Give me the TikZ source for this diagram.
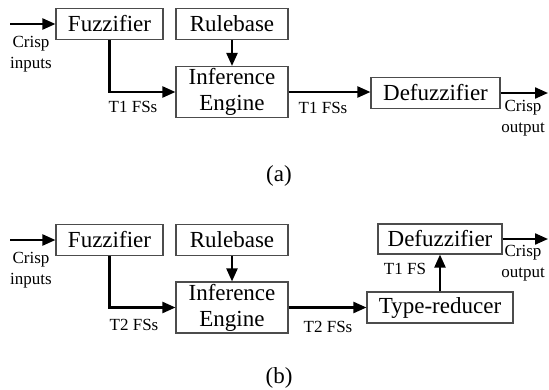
\documentclass[tikz,border=0pt]{standalone}
\usepackage{fontspec}
\setmainfont{Liberation Serif}
\usetikzlibrary{arrows.meta,positioning}

\begin{document}
\begin{tikzpicture}[x=1pt,y=-1pt,
 box/.style={draw=black!70,line width=1.1pt,inner sep=0pt,align=center,
   font=\fontsize{23}{26}\selectfont,minimum height=31pt},
 tall/.style={box,minimum width=112pt,minimum height=51pt},
 lbl/.style={inner sep=0pt,align=center,font=\fontsize{17}{21}\selectfont},
 subcap/.style={inner sep=0pt,font=\fontsize{23}{26}\selectfont},
 arr/.style={-{Triangle[length=13pt,width=11pt]},line width=2.2pt}]
\useasboundingbox (0,0) rectangle (549,389);
% (a) type-1 system
\node[box,minimum width=107pt] (fuzA) at (109.5,24) {Fuzzifier};
\node[box,minimum width=112pt] (ruleA) at (232,24) {Rulebase};
\node[tall] (infA) at (232,92) {Inference\\Engine};
\node[box,minimum width=129pt] (defA) at (435.5,93) {Defuzzifier};
\coordinate (inA) at (10,24);
\coordinate (outA) at (548,93);
\node[lbl] (crispinA) at (31,54) {Crisp\\inputs};
\node[lbl] (fsA1) at (133,107) {T1 FSs};
\node[lbl] (fsA2) at (323,108) {T1 FSs};
\node[lbl] (crispoutA) at (523,118) {Crisp\\output};
\node[subcap] (capA) at (279,176) {(a)};
\draw[arr] (inA)--(fuzA.west);
\draw[arr] (fuzA.south)|-(infA.west);
\draw[arr] (ruleA)--(infA);
\draw[arr] (infA.east)--(infA.east-|defA.west);
\draw[arr] (defA.east)--(outA);
% (b) type-2 system
\node[box,minimum width=107pt] (fuzB) at (109.5,240) {Fuzzifier};
\node[box,minimum width=112pt] (ruleB) at (232,240) {Rulebase};
\node[tall] (infB) at (232,307.5) {Inference\\Engine};
\node[box,minimum width=146pt] (typB) at (440,307.5) {Type-reducer};
\node[box,minimum width=124pt,minimum height=30pt] (defB) at (440,239) {Defuzzifier};
\coordinate (inB) at (10,240);
\coordinate (outB) at (548,239);
\node[lbl] (crispinB) at (31,270) {Crisp\\inputs};
\node[lbl] (fsB1) at (134,325) {T2 FSs};
\node[lbl] (fsB2) at (328,327) {T2 FSs};
\node[lbl] (fsB3) at (405,269) {T1 FS};
\node[lbl] (crispoutB) at (523,263) {Crisp\\output};
\node[subcap] (capB) at (279,378) {(b)};
\draw[arr] (inB)--(fuzB.west);
\draw[arr] (fuzB.south)|-(infB.west);
\draw[arr] (ruleB)--(infB);
\draw[arr] (infB)--(typB);
\draw[arr] (typB)--(defB);
\draw[arr] (defB.east)--(outB);
\end{tikzpicture}
\end{document}
